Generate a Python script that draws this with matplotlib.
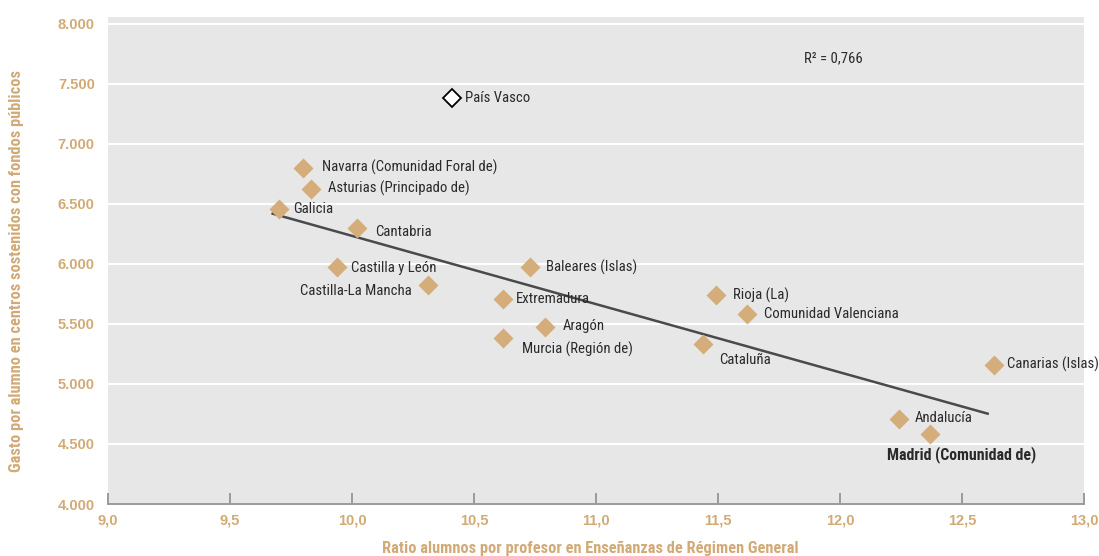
import numpy as np
import matplotlib
matplotlib.use("Agg")
import matplotlib.pyplot as plt
from matplotlib import font_manager as fm

# ---- data ----
regions = ["País Vasco", "Navarra (Comunidad Foral de)", "Asturias (Principado de)", "Galicia",
           "Cantabria", "Castilla y León", "Castilla-La Mancha", "Baleares (Islas)", "Extremadura",
           "Aragón", "Murcia (Región de)", "Rioja (La)", "Comunidad Valenciana", "Cataluña",
           "Canarias (Islas)", "Andalucía", "Madrid (Comunidad de)"]
ratio = [10.41, 9.80, 9.83, 9.70, 10.02, 9.94, 10.31, 10.73, 10.62, 10.79, 10.62,
         11.49, 11.62, 11.44, 12.63, 12.24, 12.37]
gasto = [7383, 6803, 6628, 6456, 6303, 5978, 5825, 5973, 5708, 5478, 5381,
         5742, 5581, 5336, 5161, 4711, 4581]
trend_x = [9.67, 12.61]
trend_y = [6422, 4750]
r2_text = "R² = 0,766"
xticks = [9.0, 9.5, 10.0, 10.5, 11.0, 11.5, 12.0, 12.5, 13.0]
xtick_labels = ["9,0", "9,5", "10,0", "10,5", "11,0", "11,5", "12,0", "12,5", "13,0"]
yticks = [4000, 4500, 5000, 5500, 6000, 6500, 7000, 7500, 8000]
ytick_labels = ["4.000", "4.500", "5.000", "5.500", "6.000", "6.500", "7.000", "7.500", "8.000"]

# label offsets in pixels (dx, dy), horizontal alignment, weight
label_style = {
    "País Vasco": (13, 0, "left", "normal"),
    "Navarra (Comunidad Foral de)": (19, 0, "left", "normal"),
    "Asturias (Principado de)": (17, 0, "left", "normal"),
    "Galicia": (14, 0, "left", "normal"),
    "Cantabria": (18, -4, "left", "normal"),
    "Castilla y León": (14, -1, "left", "normal"),
    "Castilla-La Mancha": (-16, -6, "right", "normal"),
    "Baleares (Islas)": (16, 0, "left", "normal"),
    "Extremadura": (13, 0, "left", "normal"),
    "Aragón": (18, 1, "left", "normal"),
    "Murcia (Región de)": (19, -11, "left", "normal"),
    "Rioja (La)": (17, 0, "left", "normal"),
    "Comunidad Valenciana": (17, 0, "left", "normal"),
    "Cataluña": (16, -16, "left", "normal"),
    "Canarias (Islas)": (13, 0, "left", "normal"),
    "Andalucía": (16, 1, "left", "normal"),
    "Madrid (Comunidad de)": (-43, -20, "left", "bold"),
}

# ---- pick a condensed font if one is installed ----
_fonts = fm.fontManager.ttflist
_names = {f.name for f in _fonts}
NARROW = None
STRETCH = "normal"
SCALE = 1.0
for cand in ["Liberation Sans Narrow", "Roboto Condensed", "Open Sans Condensed", "Arial Narrow"]:
    if cand in _names:
        NARROW = cand
        break
if NARROW is None:
    for f in _fonts:
        if f.name in ("DejaVu Sans", "Roboto", "Open Sans", "Noto Sans") and str(f.stretch) in ("condensed", "semi-condensed", "extra-condensed", "500", "375", "250"):
            NARROW = f.name
            STRETCH = f.stretch
            break
if NARROW is None:
    NARROW = "Liberation Sans"
    SCALE = 0.86
FAM = [NARROW, "DejaVu Sans"]

TAN = "#D2AA76"
MARK = "#D4AD7B"
BG = "#E6E7E6"
TXT = "#2A2A2A"
LBL = 10.6 * SCALE
LBL_BOLD = 11.4 * SCALE

fig = plt.figure(figsize=(10.99, 5.56), dpi=100)
ax = fig.add_axes([108/1099, 52/556, 976/1099, 487/556])
ax.set_facecolor(BG)
ax.set_xlim(9.0, 13.0)
ax.set_ylim(4000, 8058)

for y in yticks[1:]:
    ax.axhline(y, color="white", lw=1.5, zorder=1)

for s in ["top", "right", "left"]:
    ax.spines[s].set_visible(False)
ax.spines["bottom"].set_color("#9A9A9A")
ax.spines["bottom"].set_linewidth(1.4)

ax.set_xticks(xticks)
ax.set_yticks(yticks)
ax.set_xticklabels(xtick_labels, fontsize=10.5, fontweight="bold",
                   family=["Liberation Sans", "DejaVu Sans"])
ax.set_yticklabels(ytick_labels, fontsize=10.5, fontweight="bold",
                   family=["Liberation Sans", "DejaVu Sans"])
ax.tick_params(axis="x", direction="in", length=8, width=1.4, color="#9A9A9A", pad=7,
               labelcolor=TAN)
ax.tick_params(axis="y", length=0, pad=9.5, labelcolor=TAN)

# trend line
ax.plot(trend_x, trend_y, color="#4A4A4A", lw=1.8, zorder=2, solid_capstyle="butt")

# points
for name, x, y in zip(regions, ratio, gasto):
    if name == "País Vasco":
        ax.plot(x, y, marker="D", ms=9.5, mfc="white", mec="black", mew=1.3, zorder=3, ls="none")
    else:
        ax.plot(x, y, marker="D", ms=10, mfc=MARK, mec="none", zorder=3, ls="none")
    dx, dy, ha, wt = label_style[name]
    ax.annotate(name, (x, y), xytext=(dx, dy), textcoords="offset pixels",
                ha=ha, va="center", fontsize=(LBL_BOLD if wt == "bold" else LBL),
                color=TXT, fontweight=wt, family=FAM, fontstretch=STRETCH, zorder=4)

ax.text(11.852, 7717, r2_text, ha="left", va="center", fontsize=LBL, color=TXT,
        family=FAM, fontstretch=STRETCH)

fig.text(590/1099, 1 - 548/556, "Ratio alumnos por profesor en Enseñanzas de Régimen General",
         ha="center", va="center", fontsize=11.8 * SCALE, fontweight="bold", color=TAN,
         family=FAM, fontstretch=STRETCH)
fig.text(17/1099, 1 - 271/556, "Gasto por alumno en centros sostenidos con fondos públicos",
         ha="center", va="center", rotation=90, fontsize=11.8 * SCALE, fontweight="bold",
         color=TAN, family=FAM, fontstretch=STRETCH)

fig.savefig("out.png", dpi=100, facecolor="white")
